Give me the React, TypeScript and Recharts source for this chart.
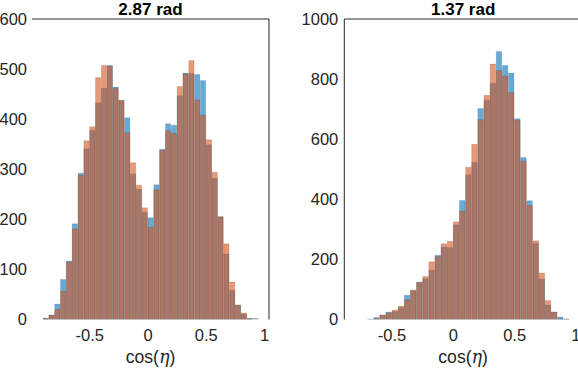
import React from 'react';
import { ComposedChart, Bar, XAxis, YAxis } from 'recharts';

// ---------- data ----------
const leftCenters = [
  -0.875, -0.825, -0.775, -0.725, -0.675, -0.625, -0.575, -0.525, -0.475, -0.425,
  -0.375, -0.325, -0.275, -0.225, -0.175, -0.125, -0.075, -0.025, 0.025, 0.075,
  0.125, 0.175, 0.225, 0.275, 0.325, 0.375, 0.425, 0.475, 0.525, 0.575,
  0.625, 0.675, 0.725, 0.775, 0.825, 0.875, 0.925,
];
const leftBlue = [
  3, 9, 31, 80, 117, 191, 292, 341, 378, 433,
  462, 507, 464, 438, 403, 291, 260, 214, 203, 269,
  340, 391, 388, 447, 492, 491, 489, 477, 349, 282,
  205, 131, 58, 29, 11, 2, 2,
];
const leftOrange = [
  2, 9, 20, 57, 115, 181, 288, 357, 385, 483,
  507, 506, 461, 437, 373, 313, 268, 223, 184, 259,
  338, 377, 372, 465, 490, 517, 438, 408, 359, 294,
  205, 151, 75, 29, 13, 2, 0,
];

const rightCenters = [
  -0.675, -0.625, -0.575, -0.525, -0.475, -0.425, -0.375, -0.325, -0.275, -0.225,
  -0.175, -0.125, -0.075, -0.025, 0.025, 0.075, 0.125, 0.175, 0.225, 0.275,
  0.325, 0.375, 0.425, 0.475, 0.525, 0.575, 0.625, 0.675, 0.725, 0.775,
  0.825, 0.875, 0.925,
];
const rightBlue = [
  2, 7, 15, 25, 27, 40, 81, 96, 124, 136,
  165, 214, 242, 240, 315, 396, 482, 523, 702, 730,
  786, 892, 845, 820, 668, 539, 395, 254, 135, 48,
  25, 8, 2,
];
const rightOrange = [
  0, 3, 15, 22, 32, 45, 66, 98, 124, 143,
  192, 209, 252, 260, 325, 360, 507, 583, 665, 746,
  850, 829, 810, 755, 663, 527, 379, 262, 155, 63,
  25, 2, 1,
];

const xTicks = [-0.5, 0, 0.5, 1];
const leftYTicks = [0, 100, 200, 300, 400, 500, 600];
const rightYTicks = [0, 200, 400, 600, 800, 1000];
const titles = ['2.87 rad', '1.37 rad'];
const BIN_WIDTH = 0.05;

// ---------- styling ----------
const BLUE = '#0072BD';
const ORANGE = '#D95319';
const AX = '#262626';
const FONT = '"Liberation Sans", Arial, Helvetica, sans-serif';
const H = 368;

type PanelProps = {
  centers: number[];
  blue: number[];
  orange: number[];
  yTicks: number[];
  xDomain: [number, number];
  left: number;
  width: number;
  yAxisWidth: number;
  marginRight: number;
  showLeftLine: boolean;
  labelGap: number;
};

const MARGIN_TOP = 19;
const TOP_AXIS_H = 1;
const BOTTOM_AXIS_H = 30;
const MARGIN_BOTTOM = 18.5;

function Panel(p: PanelProps) {
  const rows = p.centers.map((x, i) => ({ x, blue: p.blue[i], orange: p.orange[i] }));
  const plotW = p.width - p.yAxisWidth - p.marginRight - 1;
  const barSize = (plotW * BIN_WIDTH) / (p.xDomain[1] - p.xDomain[0]);
  const yDomain: [number, number] = [p.yTicks[0], p.yTicks[p.yTicks.length - 1]];
  const tickStyle = { fontSize: 16.5, fill: AX, fontFamily: FONT };
  return (
    <div style={{ position: 'absolute', left: p.left, top: 0 }}>
      <ComposedChart
        width={p.width}
        height={H}
        data={rows}
        margin={{ top: MARGIN_TOP, right: p.marginRight, bottom: MARGIN_BOTTOM, left: 0 }}
      >
        <XAxis
          xAxisId="b"
          type="number"
          dataKey="x"
          domain={p.xDomain}
          ticks={xTicks}
          allowDataOverflow
          axisLine={false}
          tickLine={false}
          tickSize={6}
          tickMargin={4}
          height={BOTTOM_AXIS_H}
          tick={tickStyle}
          interval={0}
        />
        <XAxis xAxisId="o" type="number" dataKey="x" domain={p.xDomain} allowDataOverflow hide />
        <XAxis
          xAxisId="t"
          orientation="top"
          type="number"
          dataKey="x"
          domain={p.xDomain}
          ticks={xTicks}
          allowDataOverflow
          height={TOP_AXIS_H}
          tick={false}
          mirror
          tickSize={3}
          stroke={AX}
          axisLine={{ stroke: AX, strokeWidth: 1 }}
          tickLine={{ stroke: AX, strokeWidth: 1 }}
        />
        <YAxis
          yAxisId="l"
          domain={yDomain}
          ticks={p.yTicks}
          allowDataOverflow
          width={p.yAxisWidth}
          axisLine={p.showLeftLine ? { stroke: AX, strokeWidth: 1 } : false}
          tickLine={false}
          tickSize={3}
          tickMargin={p.labelGap}
          tick={tickStyle}
          interval={0}
        />
        <YAxis
          yAxisId="r"
          orientation="right"
          domain={yDomain}
          ticks={p.yTicks}
          allowDataOverflow
          width={1}
          tick={false}
          tickLine={false}
          axisLine={{ stroke: AX, strokeWidth: 1 }}
        />
        <Bar
          xAxisId="b"
          yAxisId="l"
          dataKey="blue"
          fill={BLUE}
          fillOpacity={0.6}
          stroke="#000"
          strokeWidth={0.5}
          strokeOpacity={0.22}
          barSize={barSize}
          isAnimationActive={false}
        />
        <Bar
          xAxisId="o"
          yAxisId="l"
          dataKey="orange"
          fill={ORANGE}
          fillOpacity={0.6}
          stroke="#000"
          strokeWidth={0.5}
          strokeOpacity={0.22}
          barSize={barSize}
          isAnimationActive={false}
        />
      </ComposedChart>
    </div>
  );
}

const leftPanel = { left: 0, width: 290, yAxisWidth: 32, marginRight: 20 };
const rightPanel = { left: 288, width: 300, yAxisWidth: 56.3, marginRight: 5 };

function plotCenter(pp: { left: number; width: number; yAxisWidth: number; marginRight: number }) {
  const l = pp.left + pp.yAxisWidth;
  const r = pp.left + pp.width - pp.marginRight - 1;
  return (l + r) / 2;
}

export default function App() {
  const c1 = plotCenter(leftPanel);
  const c2 = plotCenter(rightPanel);
  return (
    <div
      style={{
        position: 'absolute',
        left: 0,
        top: 0,
        width: 578,
        height: H,
        overflow: 'hidden',
        background: '#fff',
        fontFamily: FONT,
      }}
    >
      <Panel
        centers={leftCenters}
        blue={leftBlue}
        orange={leftOrange}
        yTicks={leftYTicks}
        xDomain={[-0.995, 1.038]}
        showLeftLine={false}
        labelGap={2}
        {...leftPanel}
      />
      <Panel
        centers={rightCenters}
        blue={rightBlue}
        orange={rightOrange}
        yTicks={rightYTicks}
        xDomain={[-0.89, 1.05]}
        showLeftLine={true}
        labelGap={3}
        {...rightPanel}
      />
      <svg
        width={578}
        height={H}
        style={{ position: 'absolute', left: 0, top: 0, pointerEvents: 'none' }}
      >
        <text x={c1} y={14.5} textAnchor="middle" fontWeight="bold" fontSize={17} fill="#000" fontFamily={FONT}>
          {titles[0]}
        </text>
        <text x={c2} y={14.5} textAnchor="middle" fontWeight="bold" fontSize={17} fill="#000" fontFamily={FONT}>
          {titles[1]}
        </text>
        <text x={c1} y={363} textAnchor="middle" fontSize={17.6} fill={AX} fontFamily={FONT}>
          cos(<tspan fontStyle="italic" fontFamily='"DejaVu Serif", serif'>η</tspan>)
        </text>
        <text x={c2} y={363} textAnchor="middle" fontSize={17.6} fill={AX} fontFamily={FONT}>
          cos(<tspan fontStyle="italic" fontFamily='"DejaVu Serif", serif'>η</tspan>)
        </text>
      </svg>
    </div>
  );
}
